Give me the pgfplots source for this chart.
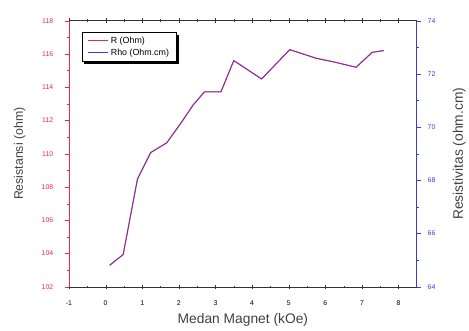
\documentclass[border=0pt]{standalone}
\usepackage{fontspec}
\setmainfont{Liberation Sans}
\usepackage{pgfplots}
\pgfplotsset{compat=1.18}
\usepackage{pgfplotstable}
\definecolor{rred}{RGB}{235,40,70}
\definecolor{bblue}{RGB}{60,60,220}
\pgfplotstableread{
x R Rho
0.11 103.29 64.81
0.48 103.94 65.21
0.87 108.48 68.05
1.23 110.07 69.04
1.67 110.66 69.41
2.06 111.85 70.16
2.39 112.93 70.83
2.70 113.72 71.33
3.15 113.72 71.33
3.50 115.60 72.50
4.26 114.50 71.81
5.03 116.26 72.91
5.74 115.75 72.59
6.27 115.50 72.44
6.84 115.20 72.25
7.28 116.10 72.81
7.60 116.20 72.88
}\datatable
\begin{document}
\begin{tikzpicture}
\pgfplotsset{
  common/.style={
    scale only axis, width=353pt, height=270pt,
    xmin=-1, xmax=8.5,
    /pgf/number format/assume math mode=true,
    tick label style={font=\fontsize{7}{8}\selectfont},
    major tick length=4.5pt, minor tick length=2.5pt,
  }
}
\begin{axis}[common,
  at={(0,0)}, anchor=south west,
  ymin=102, ymax=118, ytick={102,104,...,118},
  minor y tick num=1, minor x tick num=1,
  xtick={-1,0,...,8},
  axis y line*=left,
  y axis line style={draw=rred, line width=0.8pt},
  ytick style={draw=rred},
  yticklabel style={text=rred, xshift=-8pt},
  xticklabel style={yshift=-8pt},
  ytick align=outside,
  xtick align=center,
  x axis line style={draw=black!80},
  xtick style={draw=black!80},
  xlabel={Medan Magnet (kOe)},
  ylabel={Resistansi (ohm)},
  xlabel style={font=\fontsize{14}{16}\selectfont, text=black!75, at={(axis description cs:0.5,-0.126)}, anchor=center},
  ylabel style={font=\fontsize{12.5}{14}\selectfont, text=black!75, at={(axis description cs:-0.142,0.5)}, anchor=center},
  legend style={at={(axis description cs:0.037,0.957)}, anchor=north west,
    name=leg, draw=black, line width=0.7pt,
    font=\fontsize{9}{10}\selectfont, fill=white,
    inner xsep=5pt, inner ysep=2.5pt, row sep=0pt},
  legend image code/.code={\draw[#1] (0cm,0cm) -- (21pt,0cm);},
  legend cell align=left,
]
\addplot[rred, line width=1.1pt] table[x=x, y=R] {\datatable};
\addlegendentry{R (Ohm)}
\addlegendimage{bblue, line width=0.9pt}
\addlegendentry{Rho (Ohm.cm)}
\end{axis}
\begin{axis}[common,
  at={(0,0)}, anchor=south west,
  ymin=64, ymax=74, ytick={64,66,...,74},
  minor y tick num=1,
  axis y line*=right, axis x line=none,
  y axis line style={draw=bblue, line width=0.8pt},
  ytick style={draw=bblue},
  yticklabel style={text=bblue, xshift=3pt},
  ytick align=outside,
  ylabel={Resistivitas (ohm.cm)},
  ylabel style={font=\fontsize{14}{16}\selectfont, text=black!75, at={(axis description cs:1.122,0.5)}, anchor=center, rotate=0},
]
\addplot[bblue, line width=0.8pt, opacity=0.75] table[x=x, y=Rho] {\datatable};
\end{axis}
\draw[black, line width=2.5pt] ([xshift=1.6pt,yshift=-2.5pt]leg.north east) -- ([xshift=1.6pt,yshift=-1.6pt]leg.south east) -- ([xshift=2.5pt,yshift=-1.6pt]leg.south west);
\path[use as bounding box] (-70pt,-43pt) rectangle (399pt,291pt);
\end{tikzpicture}
\end{document}
